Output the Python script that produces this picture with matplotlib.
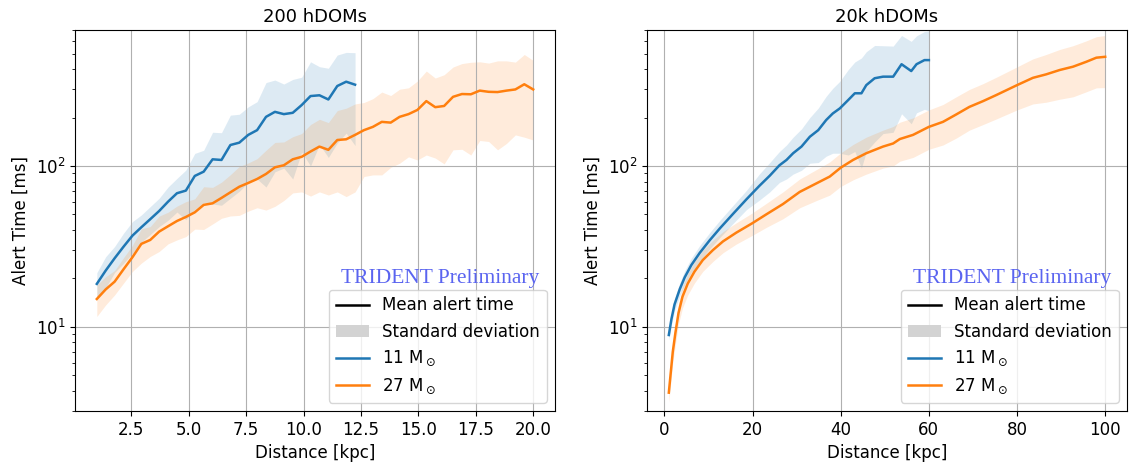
import numpy as np
import matplotlib
matplotlib.use("Agg")
import matplotlib.pyplot as plt
from matplotlib.lines import Line2D
from matplotlib.patches import Patch

# ---------------- data: left panel (200 hDOMs) ----------------
dist_200 = np.linspace(1, 20, 50)
mean_200_11 = [18.5, 22.4, 26.7, 31.5, 36.9, 41.6, 46.7, 52.5, 60, 67.7,
               70.3, 86.7, 92.2, 110, 109, 135, 139.6, 156, 167, 202,
               217, 210, 214, 239, 272, 275, 259, 314, 334, 320]
std_200_11 = [3.2, 4.9, 4.9, 6.7, 8.2, 8, 9.2, 10.5, 14, 16,
              24, 33, 33, 52, 52, 72, 70, 77, 84, 128,
              125, 113, 131, 117, 172, 139, 146, 175, 174, 186]
mean_200_27 = [14.9, 17.1, 19.1, 22.8, 27.1, 32.8, 34.7, 39.1, 42.2, 45.5,
               48.2, 51.5, 57.3, 58.6, 63.3, 68.6, 74.3, 78.4, 83, 89.2,
               98.1, 101, 110, 114, 123, 132, 126, 145, 146.5, 156,
               167, 175, 188, 186, 202, 210, 223, 253, 232, 236,
               269, 280, 279, 294, 289, 288, 294, 299, 322, 299]
std_200_27 = [3.3, 3.4, 3.3, 4.1, 5, 7.9, 7.3, 9.7, 9.4, 10.8,
              11.8, 11, 17, 15, 16, 19.7, 25, 26, 28, 36,
              42, 40, 42, 45, 58, 63, 60, 76, 82, 87,
              81, 87, 100, 88, 98, 96, 114, 136, 120, 133,
              143, 153, 162, 150, 147, 162, 156, 143, 171, 154]

# ---------------- data: right panel (20k hDOMs) ----------------
dist_20k_11 = [1, 1.6, 2.3, 3.5, 4.6, 6.1, 8.0, 10.3, 12.6, 15.6, 18.6, 21.6,
               23.9, 26.1, 27.7, 29.2, 31.1, 33.0, 34.9, 36.7, 38.2, 39.8,
               41.7, 43.2, 44.7, 45.8, 47.7, 49.6, 51.9, 53.8, 56.0, 57.2,
               59.0, 60.0]
mean_20k_11 = [8.9, 11.2, 13.8, 17.2, 20.3, 24.2, 28.8, 34.6, 41.0, 50.5, 62,
               75.5, 87, 101, 109, 120, 132, 152, 167, 193, 212, 228, 257,
               283, 283, 318, 351, 359, 359, 429, 389, 429, 455, 455]
std_20k_11 = [0.6, 0.9, 1.2, 1.6, 2.0, 2.5, 3.2, 4.0, 5, 6.5, 8.5, 14, 18, 22,
              26, 31, 38, 48, 62, 78, 92, 108, 140, 160, 186, 195, 210, 200,
              197, 218, 206, 215, 230, 235]
dist_20k_27 = [1, 1.9, 2.5, 3.2, 4.1, 5.3, 6.8, 8.7, 11.0, 13.3, 16.3, 19.9,
               23.1, 26.9, 30.7, 34.5, 37.5, 40.0, 42.8, 45.8, 49.6, 51.9,
               53.4, 56.4, 60.0, 63.2, 66.2, 69.2, 72.3, 75.3, 80.0, 83.6,
               86.6, 89.7, 92.7, 95.7, 98.0, 100]
mean_20k_27 = [3.9, 7.0, 9.2, 12.2, 15.4, 18.6, 22.0, 26.0, 30.0, 34.0, 38.5,
               44.0, 50.0, 58.0, 69.0, 78, 85.9, 97.6, 109, 120, 132, 138, 147,
               156, 175, 188, 209, 233, 253, 276, 318, 353, 371, 395, 414, 444,
               471, 477]
std_20k_27 = [0.5, 1.0, 1.4, 1.8, 2.3, 2.8, 3.3, 3.9, 4.5, 5.1, 5.8, 7, 8.5,
              11, 14, 17, 20, 23, 27, 31, 35, 38, 40, 43, 48, 53, 60, 66,
              72, 80, 95, 110, 122, 135, 145, 155, 165, 170]

titles = ["200 hDOMs", "20k hDOMs"]
labels = ["11 M$_\\odot$", "27 M$_\\odot$"]

plt.rcParams['font.size'] = 12

fig = plt.figure(figsize=(11.29, 4.70), dpi=100)
ax1 = fig.add_axes([75/1129, 1 - 411/470, 480/1129, 381/470])
ax2 = fig.add_axes([647/1129, 1 - 411/470, 480/1129, 381/470])

panels = [
    (ax1, [(dist_200[:len(mean_200_11)], mean_200_11, std_200_11),
           (dist_200, mean_200_27, std_200_27)]),
    (ax2, [(dist_20k_11, mean_20k_11, std_20k_11),
           (dist_20k_27, mean_20k_27, std_20k_27)]),
]

colors = ['C0', 'C1']
for (ax, series), title in zip(panels, titles):
    for (x, m, s), c in zip(series, colors):
        x = np.asarray(x, float)
        m = np.asarray(m, float)
        s = np.asarray(s, float)
        ax.plot(x, m, color=c, lw=1.8)
        ax.fill_between(x, m - s, m + s, color=c, alpha=0.15, lw=0)
    ax.set_yscale('log')
    ax.set_ylim(3, 700)
    ax.grid(True, color='#b0b0b0', lw=0.8)
    ax.set_title(title, fontsize=13)
    ax.set_xlabel("Distance [kpc]")
    ax.set_ylabel("Alert Time [ms]")
    handles = [Line2D([], [], color='black', lw=1.8),
               Patch(facecolor='lightgray', edgecolor='none'),
               Line2D([], [], color='C0', lw=1.8),
               Line2D([], [], color='C1', lw=1.8)]
    ax.legend(handles, ["Mean alert time", "Standard deviation"] + labels,
              loc='lower right')
    ax.text(0.967, 0.336, "TRIDENT Preliminary", transform=ax.transAxes,
            ha='right', va='baseline', family='Liberation Serif',
            fontsize=15.5, color='#5a64f0')

ax1.set_xlim(0.05, 20.95)
ax2.set_xlim(-3.95, 104.95)

fig.savefig("out.png", dpi=100)
